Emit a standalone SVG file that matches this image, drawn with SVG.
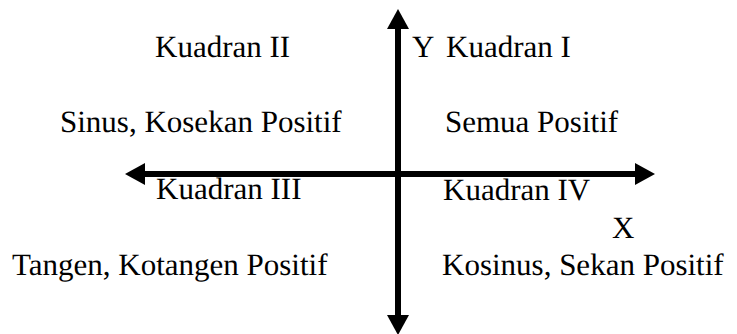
<svg xmlns="http://www.w3.org/2000/svg" width="737" height="334" viewBox="0 0 737 334">
  <style>
    .axis { stroke: #000; stroke-width: 6; fill: none; }
  </style>
  <defs>
    <marker id="ah" markerUnits="userSpaceOnUse" viewBox="0 0 20 22" markerWidth="20" markerHeight="22" refX="0" refY="11" orient="auto-start-reverse">
      <path d="M0,0 L20,11 L0,22 z" fill="#000"/>
    </marker>
  </defs>
  <rect width="737" height="334" fill="#fff"/>
  <g id="connectors">
    <line class="axis" x1="398" y1="29" x2="398" y2="315" marker-start="url(#ah)" marker-end="url(#ah)"/>
    <line class="axis" x1="145" y1="174" x2="635" y2="174" marker-start="url(#ah)" marker-end="url(#ah)"/>
  </g>
  <g font-family="Liberation Serif, Times New Roman, serif" font-size="31" fill="#000" text-rendering="geometricPrecision">
    <g id="labels">
      <text id="y-label" x="412" y="57">Y</text>
      <text id="x-label" x="612" y="238">X</text>
    </g>
    <g id="q2">
      <text x="155" y="57">Kuadran II</text>
      <text x="60" y="132">Sinus, Kosekan Positif</text>
    </g>
    <g id="q1">
      <text x="446" y="57">Kuadran I</text>
      <text x="445" y="132">Semua Positif</text>
    </g>
    <g id="q3">
      <text x="156" y="199">Kuadran III</text>
      <text x="12" y="275">Tangen, Kotangen Positif</text>
    </g>
    <g id="q4">
      <text x="443" y="200">Kuadran IV</text>
      <text x="442" y="275">Kosinus, Sekan Positif</text>
    </g>
  </g>
</svg>
